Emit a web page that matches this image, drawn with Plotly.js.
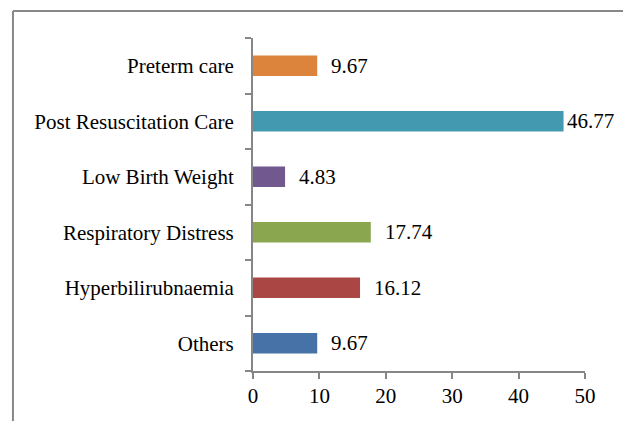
<!DOCTYPE html>
<html>
<head>
<meta charset="utf-8">
<script src="https://cdn.plot.ly/plotly-3.0.1.min.js"></script>
<style>html,body{margin:0;padding:0;background:#fff;}#chart{width:623px;height:421px;}</style>
</head>
<body>
<div id="chart"></div>
<script>
const categories = ["Others", "Hyperbilirubnaemia", "Respiratory Distress", "Low Birth Weight", "Post Resuscitation Care", "Preterm care"];
const values = [9.67, 16.12, 17.74, 4.83, 46.77, 9.67];
const barColors = ["#4672A8", "#AA4644", "#8AA64F", "#71588F", "#4299B0", "#DD843C"];
const xTicks = [0, 10, 20, 30, 40, 50];

const FONT = "Liberation Serif, Times New Roman, serif";

// plot geometry (pixels) used to keep value labels inside the chart frame
const W = 623, H = 421, ML = 253, MR = 38, MT = 38, MB = 50;
const plotW = W - ML - MR;
const xMax = 50;
const labelGap = 14, labelWidth = 48, frameRight = 616;

const trace = {
  type: "bar",
  orientation: "h",
  y: categories,
  x: values,
  marker: {color: barColors},
  hoverinfo: "none"
};

const annotations = categories.map((c, i) => {
  const endPx = ML + values[i] / xMax * plotW;
  const txt = values[i].toFixed(2);
  if (endPx + labelGap + labelWidth > frameRight) {
    return {
      x: (frameRight - ML) / plotW, xref: "paper", y: c, yref: "y",
      text: txt, showarrow: false, xanchor: "right", yanchor: "middle",
      font: {family: FONT, size: 21, color: "#000"}
    };
  }
  return {
    x: values[i], y: c, xref: "x", yref: "y",
    text: txt, showarrow: false,
    xanchor: "left", yanchor: "middle", xshift: labelGap - 2,
    font: {family: FONT, size: 21, color: "#000"}
  };
});

const layout = {
  width: W, height: H,
  margin: {l: ML, r: MR, t: MT, b: MB},
  paper_bgcolor: "#fff", plot_bgcolor: "#fff",
  showlegend: false,
  bargap: 0.63,
  font: {family: FONT, size: 21, color: "#000"},
  xaxis: {
    range: [0, xMax], tickvals: xTicks, ticktext: xTicks.map(String),
    showgrid: false, zeroline: false,
    showline: true, linecolor: "#868686", linewidth: 2,
    ticks: "outside", ticklen: 6, tickcolor: "#868686", tickwidth: 2,
    tickfont: {family: FONT, size: 21, color: "#000"},
    ticklabelstandoff: -1,
    fixedrange: true
  },
  yaxis: {
    type: "category", categoryorder: "array", categoryarray: categories,
    range: [-0.5, 5.5],
    showgrid: false, zeroline: false,
    showline: true, linecolor: "#868686", linewidth: 2,
    ticks: "outside", ticklen: 6, tickcolor: "#868686", tickwidth: 2,
    tickson: "boundaries",
    tickfont: {family: FONT, size: 21, color: "#000"},
    ticklabelstandoff: 13,
    fixedrange: true
  },
  annotations: annotations,
  shapes: [
    {type: "line", xref: "paper", yref: "paper", x0: -0.723, x1: 1.2, y0: 1.081, y1: 1.081, line: {color: "#888888", width: 2}},
    {type: "line", xref: "paper", yref: "paper", x0: -0.723, x1: -0.723, y0: 1.081, y1: -0.2, line: {color: "#888888", width: 2}}
  ]
};

Plotly.newPlot("chart", [trace], layout, {staticPlot: true, displayModeBar: false});
</script>
</body>
</html>
